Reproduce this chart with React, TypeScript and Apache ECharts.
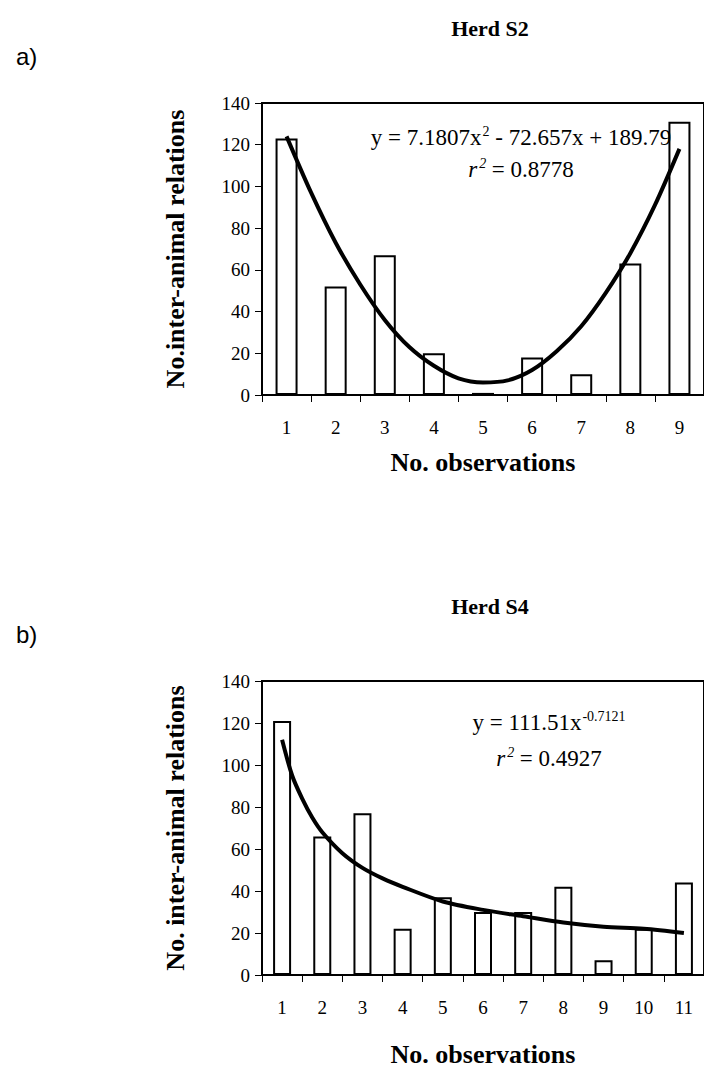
import React, { useEffect, useRef } from "react";
import * as echarts from "echarts";

const catsA = ["1", "2", "3", "4", "5", "6", "7", "8", "9"];
const barsA = [123, 52, 67, 20, 1, 18, 10, 63, 131];
// trend curve of plot a) at half steps (x, y)
const trendAX = [1, 1.5, 2, 2.5, 3, 3.5, 4, 4.5, 5, 5.5, 6, 6.5, 7, 7.5, 8, 8.5, 9];
const trendAY = [124, 97, 73, 53, 36, 23, 14, 8, 6, 7, 12, 21, 33, 49, 68, 91, 118];

const catsB = ["1", "2", "3", "4", "5", "6", "7", "8", "9", "10", "11"];
const barsB = [121, 66, 77, 22, 37, 30, 30, 42, 7, 22, 44];
// trend curve of plot b) (x, y)
const trendBX = [1, 1.25, 1.5, 1.75, 2, 2.5, 3, 3.5, 4, 5, 6, 7, 8, 9, 10, 11];
const trendBY = [112, 95, 84, 75, 68, 58, 51, 46, 42, 35, 31, 28, 25, 23, 22, 20];

const SERIF = "'Liberation Serif', 'Times New Roman', serif";
const SANS = "'Liberation Sans', Arial, sans-serif";

export default function App() {
  const ref = useRef<HTMLDivElement>(null);
  useEffect(() => {
    if (!ref.current) return;
    const chart = echarts.init(ref.current, null, { renderer: "svg" });
    const xCat = (data: string[], gridIndex: number, nameGap: number) => ({
      type: "category",
      gridIndex,
      data,
      boundaryGap: true,
      axisLine: { lineStyle: { color: "#000", width: 2 } },
      axisTick: { show: true, inside: false, length: 7, lineStyle: { color: "#000", width: 1 } },
      axisLabel: { color: "#000", fontFamily: SERIF, fontSize: 19, margin: 23 },
      name: "No. observations",
      nameLocation: "middle",
      nameGap,
      nameTextStyle: { color: "#000", fontFamily: SERIF, fontSize: 26, fontWeight: "bold" },
      splitLine: { show: false },
    });
    const xVal = (gridIndex: number, n: number) => ({
      type: "value",
      gridIndex,
      min: 0.5,
      max: n + 0.5,
      show: false,
      splitLine: { show: false },
    });
    const yAxisCommon = (name: string, gridIndex: number) => ({
      type: "value",
      gridIndex,
      min: 0,
      max: 140,
      interval: 20,
      axisLine: { show: true, lineStyle: { color: "#000", width: 2 } },
      axisTick: { show: true, inside: false, length: 7, lineStyle: { color: "#000", width: 1 } },
      axisLabel: { color: "#000", fontFamily: SERIF, fontSize: 19, margin: 12 },
      splitLine: { show: false },
      name,
      nameLocation: "middle",
      nameGap: 74,
      nameTextStyle: { color: "#000", fontFamily: SERIF, fontSize: 26, fontWeight: "bold" },
    });
    const barStyle = { color: "#fff", borderColor: "#000", borderWidth: 2 };
    const pairs = (xs: number[], ys: number[]) => xs.map((x, i) => [x, ys[i]]);
    const lineSeries = (data: number[][], xIdx: number, yIdx: number) => ({
      type: "line",
      xAxisIndex: xIdx,
      yAxisIndex: yIdx,
      data,
      smooth: 0.3,
      showSymbol: false,
      symbol: "none",
      lineStyle: { color: "#000", width: 4 },
      z: 5,
    });
    const eqRich = {
      n: { fontFamily: SERIF, fontSize: 23, color: "#000" },
      i: { fontFamily: SERIF, fontSize: 23, fontStyle: "italic", color: "#000" },
      s: { fontFamily: SERIF, fontSize: 14, color: "#000", padding: [0, 0, 11, 1] },
      si: { fontFamily: SERIF, fontSize: 14, fontStyle: "italic", color: "#000", padding: [0, 0, 11, 2] },
    };
    chart.setOption({
      animation: false,
      backgroundColor: "#fff",
      title: [
        {
          text: "Herd S2",
          left: 485,
          top: 12,
          textAlign: "center",
          textStyle: { fontFamily: SERIF, fontSize: 22, fontWeight: "bold", color: "#000" },
        },
        {
          text: "Herd S4",
          left: 485,
          top: 590,
          textAlign: "center",
          textStyle: { fontFamily: SERIF, fontSize: 22, fontWeight: "bold", color: "#000" },
        },
      ],
      grid: [
        { left: 262, top: 103, width: 446, height: 292, show: true, borderColor: "#000", borderWidth: 2, backgroundColor: "transparent" },
        { left: 262, top: 681, width: 449, height: 294, show: true, borderColor: "#000", borderWidth: 2, backgroundColor: "transparent" },
      ],
      xAxis: [xCat(catsA, 0, 54), xCat(catsB, 1, 66), xVal(0, catsA.length), xVal(1, catsB.length)],
      yAxis: [yAxisCommon("No.inter-animal relations", 0), yAxisCommon("No. inter-animal relations", 1)],
      series: [
        { type: "bar", xAxisIndex: 0, yAxisIndex: 0, data: barsA, barWidth: 22, itemStyle: barStyle },
        lineSeries(pairs(trendAX, trendAY), 2, 0),
        { type: "bar", xAxisIndex: 1, yAxisIndex: 1, data: barsB, barWidth: 18, itemStyle: barStyle },
        lineSeries(pairs(trendBX, trendBY), 3, 1),
      ],
      graphic: [
        {
          type: "text",
          left: 16,
          top: 44,
          style: { text: "a)", font: `24px ${SANS}`, fill: "#000" },
        },
        {
          type: "text",
          left: 16,
          top: 622,
          style: { text: "b)", font: `24px ${SANS}`, fill: "#000" },
        },
        {
          type: "text",
          x: 521,
          y: 137,
          style: {
            text: "{n|y = 7.1807x}{s|2}{n| - 72.657x + 189.79}",
            align: "center",
            verticalAlign: "middle",
            rich: eqRich,
          },
          z: 10,
        },
        {
          type: "text",
          x: 521,
          y: 169,
          style: {
            text: "{i|r}{si|2}{n| = 0.8778}",
            align: "center",
            verticalAlign: "middle",
            rich: eqRich,
          },
          z: 10,
        },
        {
          type: "text",
          x: 549,
          y: 722,
          style: {
            text: "{n|y = 111.51x}{s|-0.7121}",
            align: "center",
            verticalAlign: "middle",
            rich: eqRich,
          },
          z: 10,
        },
        {
          type: "text",
          x: 549,
          y: 758,
          style: {
            text: "{i|r}{si|2}{n| = 0.4927}",
            align: "center",
            verticalAlign: "middle",
            rich: eqRich,
          },
          z: 10,
        },
      ],
    });
    return () => chart.dispose();
  }, []);
  return (
    <div
      ref={ref}
      style={{ position: "absolute", left: 0, top: 0, width: 704, height: 1071, background: "#fff" }}
    />
  );
}
